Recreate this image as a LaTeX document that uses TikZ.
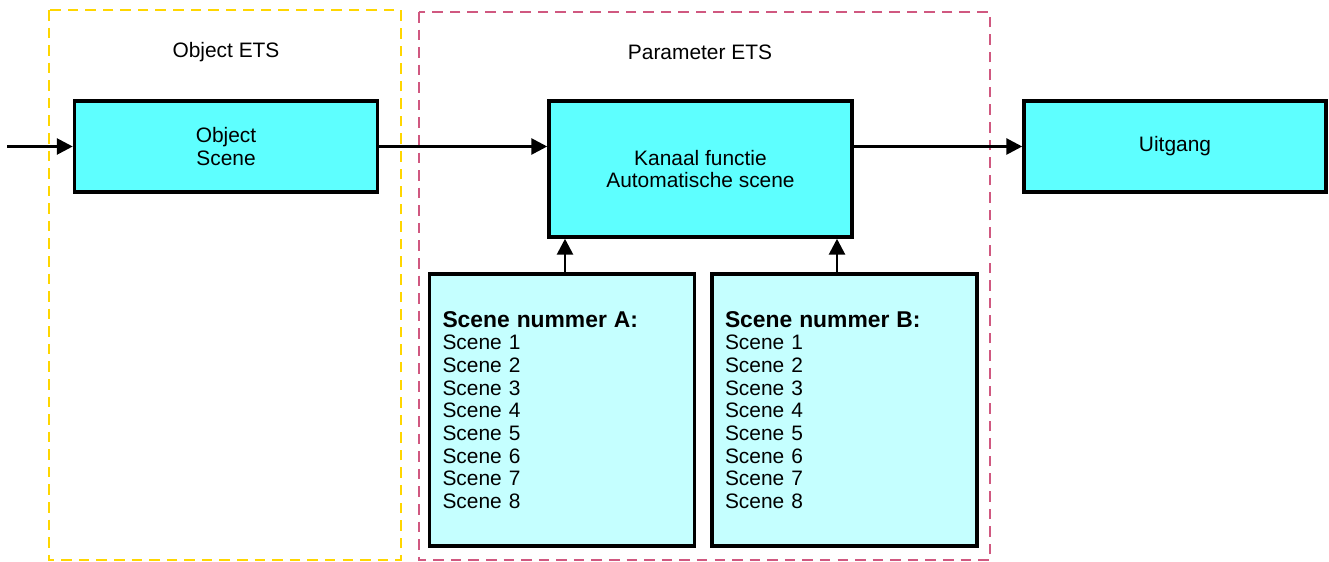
\documentclass[tikz,border=0pt]{standalone}
\usepackage{fontspec}
\setmainfont{Liberation Sans}
\usepackage{tikz}
\usetikzlibrary{arrows.meta, positioning}
\tikzset{>={Triangle[length=9pt,width=9pt]}}
\definecolor{blokcyaan}{RGB}{94,255,255}
\definecolor{lijstcyaan}{RGB}{197,255,255}
\definecolor{kadergeel}{RGB}{255,214,0}
\definecolor{kaderroze}{RGB}{208,88,128}
\tikzset{
  blok/.style={draw, line width=2pt, fill=blokcyaan, align=center, inner sep=0pt},
  lijst/.style={draw, line width=2pt, fill=lijstcyaan, align=left, inner xsep=0.26cm,
    minimum height=5.44cm, text width=4.78cm},
  kader/.style={line width=1.55pt, dash pattern=on 6pt off 4pt},
  pijl/.style={->, line width=1.6pt},
}
\begin{document}
\begin{tikzpicture}[font=\fontsize{11.9}{12.9}\selectfont]
		\useasboundingbox (0,0) rectangle (26.58,-11.24);
		\draw[kader, kadergeel] (0.98,-0.2) rectangle (8.02,-11.2);
		\draw[kader, kaderroze] (8.38,-0.24) rectangle (19.8,-11.2);
		\node (titelobj) at (4.52,-1.04) {Object ETS};
		\node (titelpar) at (14.0,-1.04) {Parameter ETS};
		\node[blok, minimum width=6.06cm, minimum height=1.82cm] (objscene) at (4.52,-2.93) {Object\\Scene};
		\node[blok, minimum width=6.06cm, minimum height=2.72cm] (kanaal) at (14.01,-3.38) {Kanaal functie\\Automatische scene};
		\node[blok, minimum width=6.04cm, minimum height=1.82cm] (uitgang) at (23.5,-2.93) {Uitgang};
		\node[lijst] (sceneA) at (11.24,-8.2) {{\fontsize{13}{12.9}\selectfont\bfseries Scene nummer A:}\\
			Scene 1\\ Scene 2\\ Scene 3\\ Scene 4\\ Scene 5\\ Scene 6\\ Scene 7\\ Scene 8};
		\node[lijst] (sceneB) at (16.89,-8.2) {{\fontsize{13}{12.9}\selectfont\bfseries Scene nummer B:}\\
			Scene 1\\ Scene 2\\ Scene 3\\ Scene 4\\ Scene 5\\ Scene 6\\ Scene 7\\ Scene 8};
		\coordinate (ingang) at (0.14,-2.93);
		\draw [pijl] (ingang)--(objscene);
		\draw [pijl] (objscene.east)--(objscene.east -| kanaal.west);
		\draw [pijl] (kanaal.east |- uitgang.west)--(uitgang.west);
		\draw [pijl] ([xshift=0.06cm]sceneA.north)--([xshift=0.06cm]sceneA.north |- kanaal.south);
		\draw [pijl] ([xshift=-0.15cm]sceneB.north)--([xshift=-0.15cm]sceneB.north |- kanaal.south);
\end{tikzpicture}
\end{document}
